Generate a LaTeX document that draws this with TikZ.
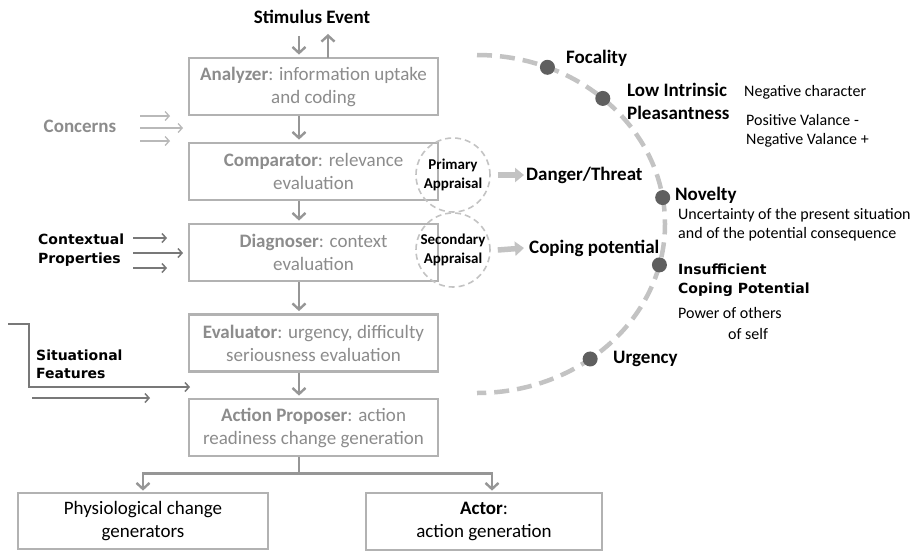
\documentclass[tikz,border=0pt]{standalone}
\usepackage{fontspec}
\setmainfont{Carlito}
\newfontfamily\heavy{DejaVu Sans}
\usetikzlibrary{arrows.meta}
\definecolor{boxline}{RGB}{178,178,178}
\definecolor{boxtext}{RGB}{140,140,140}
\definecolor{arrgray}{RGB}{150,150,150}
\definecolor{lightarr}{RGB}{185,185,185}
\definecolor{darkarr}{RGB}{120,120,120}
\definecolor{arcgray}{RGB}{195,195,195}
\definecolor{dotgray}{RGB}{95,95,95}
\tikzset{
  x=1pt, y=-1pt,
  box/.style={draw=boxline, line width=2.8pt, minimum width=249pt, minimum height=57pt,
    align=center, text=boxtext, font=\fontsize{19}{23}\selectfont, inner sep=2pt},
  outbox/.style={box, text=black},
  arr/.style={draw=arrgray, line width=2.4pt, -{Straight Barb[length=6pt,width=13pt]}},
  plainline/.style={draw=arrgray, line width=2.4pt},
  thinarr/.style={draw=lightarr, line width=1.3pt, -{Straight Barb[length=4pt,width=9pt]}},
  ctxarr/.style={draw=darkarr, line width=1.5pt, -{Straight Barb[length=4pt,width=9pt]}},
  lbl/.style={inner sep=0pt, anchor=west, align=left},
  bigb/.style={font=\fontsize{19}{23}\selectfont\bfseries},
  smallr/.style={font=\fontsize{16}{19}\selectfont},
  hv/.style={font=\heavy\fontsize{14}{19}\selectfont\bfseries},
  apprc/.style={circle, draw=arcgray, dashed, dash pattern=on 6pt off 4pt, line width=1.6pt,
    minimum size=74pt, inner sep=0pt, align=center, font=\fontsize{15}{19}\selectfont\bfseries},
  fat/.style={draw=arcgray, line width=5.5pt, -{Triangle[length=9pt,width=14pt]}},
  dot/.style={circle, fill=dotgray, minimum size=15pt, inner sep=0pt},
}
\begin{document}
\begin{tikzpicture}
\useasboundingbox (0,0) rectangle (923,552);
\fill[white] (0,0) rectangle (923,552);

% main column boxes
\node[box] (ana) at (313.5,86.5) {\textbf{Analyzer}: information uptake\\and coding};
\node[box] (comp) at (313.5,171.5) {\textbf{Comparator}: relevance\\evaluation};
\node[box] (diag) at (313.5,252.5) {\textbf{Diagnoser}: context\\evaluation};
\node[box] (eval) at (313.5,343) {\textbf{Evaluator}: urgency, difficulty\\seriousness evaluation};
\node[box] (ap) at (313.5,427.5) {\textbf{Action Proposer}: action\\readiness change generation};
\node[outbox, minimum width=250pt, minimum height=56pt] (phys) at (143,521) {Physiological change\\generators};
\node[outbox, minimum width=236pt] (actor) at (484,521.5) {\textbf{Actor}:\\action generation};

% stimulus
\node[bigb, inner sep=0pt] (stim) at (312,17) {Stimulus Event};
\draw[arr] ([xshift=-13pt,yshift=-12pt]stim.south) -- ([xshift=-14.5pt,yshift=2pt]ana.north);
\draw[arr] ([xshift=14.5pt,yshift=-1pt]ana.north) -- ([xshift=16pt,yshift=-10pt]stim.south);

% vertical chain
\draw[arr] ([xshift=-14.5pt]ana.south) -- ([xshift=-14.5pt,yshift=2pt]comp.north);
\draw[arr] ([xshift=-14.5pt]comp.south) -- ([xshift=-14.5pt,yshift=2pt]diag.north);
\draw[arr] ([xshift=-14.5pt]diag.south) -- ([xshift=-14.5pt,yshift=2pt]eval.north);
\draw[arr] ([xshift=-14.5pt]eval.south) -- ([xshift=-14.5pt,yshift=2pt]ap.north);
\draw[plainline] ([xshift=-14.5pt]ap.south) -- ([xshift=-14.5pt,yshift=-16pt]ap.south) coordinate (split);
\draw[arr] (split) -| ([yshift=1pt]phys.north);
\draw[arr] (split) -| ([xshift=8pt,yshift=1pt]actor.north);

% concerns
\node[bigb, text=boxtext, inner sep=0pt] (conc) at (80,126) {Concerns};
\coordinate (c1) at (140,116); \coordinate (c2) at (140,128); \coordinate (c3) at (140,141);
\coordinate (c1e) at (170,116); \coordinate (c2e) at (183,128); \coordinate (c3e) at (170,141);
\draw[thinarr] (c1) -- (c1e);
\draw[thinarr] (c2) -- (c2e);
\draw[thinarr] (c3) -- (c3e);

% contextual properties
\node[hv, lbl] (ctx) at (38,250) {Contextual\\Properties};
\coordinate (p1) at (133,238); \coordinate (p2) at (133,253); \coordinate (p3) at (133,268);
\coordinate (p1e) at (167,238); \coordinate (p2e) at (183,253); \coordinate (p3e) at (167,268);
\draw[ctxarr] (p1) -- (p1e);
\draw[ctxarr] (p2) -- (p2e);
\draw[ctxarr] (p3) -- (p3e);

% situational features
\node[hv, lbl, font=\heavy\fontsize{14}{18}\selectfont\bfseries] (sit) at (36,364) {Situational\\Features};
\coordinate (s0) at (8,324); \coordinate (s1) at (29,324); \coordinate (s2) at (29,387); \coordinate (s2e) at (190,387);
\coordinate (s3) at (32,398); \coordinate (s3e) at (150,398);
\draw[ctxarr] (s0) -- (s1) -- (s2) -- (s2e);
\draw[ctxarr] (s3) -- (s3e);

% appraisal circles
\node[apprc] (prim) at (453,175) {Primary\\Appraisal};
\node[apprc] (sec) at (453,250) {Secondary\\Appraisal};
\node[bigb, lbl] (danger) at (526,175) {Danger/Threat};
\node[bigb, lbl] (coping) at (529,248) {Coping potential};
\draw[fat] ([xshift=7pt]prim.east) -- ([xshift=-2pt]danger.west);
\draw[fat] ([xshift=7pt]sec.east) -- ([xshift=-5pt]coping.west);

% big arc
\coordinate (ac) at (477,224);
\draw[arcgray, line width=4.5pt, dash pattern=on 15pt off 8pt] (477,55) arc[start angle=90, end angle=-90, x radius=188pt, y radius=169pt];
\node[dot] (dfoc) at ([shift={(68:188pt and 169pt)}]ac) {};
\node[dot] (dlow) at ([shift={(48:188pt and 169pt)}]ac) {};
\node[dot] (dnov) at ([shift={(9:188pt and 169pt)}]ac) {};
\node[dot] (dins) at ([shift={(-14:188pt and 169pt)}]ac) {};
\node[dot] (durg) at ([shift={(-53:188pt and 169pt)}]ac) {};

% right labels
\node[bigb, lbl] (foc) at (566,58) {Focality};
\node[bigb, lbl] (low) at (627,101.5) {Low Intrinsic\\Pleasantness};
\node[smallr, lbl] (negc) at (744,92) {Negative character};
\node[smallr, lbl] (val) at (746,130.5) {Positive Valance -\\Negative Valance +};
\node[bigb, lbl] (nov) at (675,195) {Novelty};
\node[smallr, lbl] (unc) at (678,224.5) {Uncertainty of the present situation\\and of the potential consequence};
\node[hv, lbl] (ins) at (678,280.5) {Insufficient\\Coping Potential};
\node[smallr, lbl] (pow) at (678,313) {Power of others};
\node[smallr, lbl] (self) at (728,334) {of self};
\node[bigb, lbl] (urg) at (613,359) {Urgency};
\end{tikzpicture}
\end{document}
